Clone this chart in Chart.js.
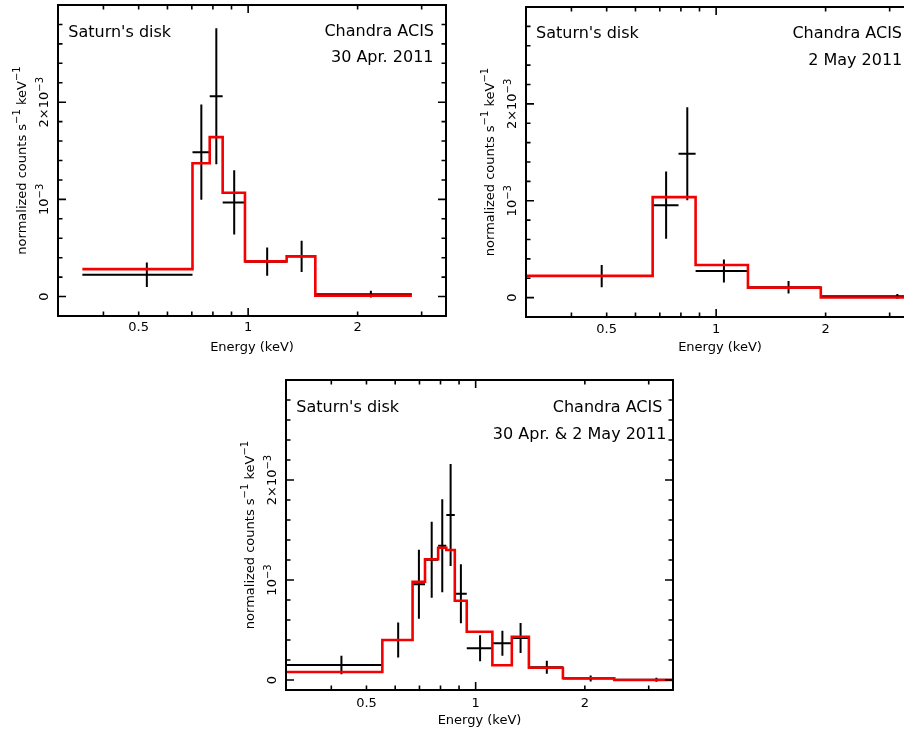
<!DOCTYPE html>
<html><head><meta charset="utf-8">
<script src="https://cdn.jsdelivr.net/npm/chart.js@4.4.1/dist/chart.umd.min.js"></script>
<style>
html,body{margin:0;padding:0;background:#fff;width:904px;height:731px;overflow:hidden;position:relative;}
canvas{position:absolute;display:block;}
</style></head><body>
<canvas id="c1" width="450" height="360" style="left:0px;top:0px;width:450px;height:360px"></canvas>
<canvas id="c2" width="450" height="360" style="left:468px;top:0px;width:450px;height:360px"></canvas>
<canvas id="c3" width="450" height="360" style="left:228px;top:375px;width:450px;height:360px"></canvas>
<script>
// ---------- data (rates in units of 1e-3 normalized counts s^-1 keV^-1) ----------
// Panel 1: 30 Apr. 2011
const p1_eLo  = [0.35, 0.703, 0.784, 0.851, 0.98, 1.276, 1.53];
const p1_eHi  = [0.703, 0.784, 0.851, 0.98, 1.276, 1.53, 2.82];
const p1_rate = [0.224, 1.486, 2.061, 0.969, 0.359, 0.414, 0.025];
const p1_err  = [0.126, 0.49, 0.70, 0.33, 0.145, 0.16, 0.035];
const p1_model= [0.282, 1.372, 1.641, 1.068, 0.362, 0.414, 0.010];
// Panel 2: 2 May 2011
const p2_eLo  = [0.30, 0.669, 0.788, 0.878, 1.223, 1.94];
const p2_eHi  = [0.669, 0.788, 0.878, 1.223, 1.94, 4.36];
const p2_rate = [0.223, 0.954, 1.485, 0.275, 0.107, 0.013];
const p2_err  = [0.115, 0.347, 0.48, 0.118, 0.065, 0.025];
const p2_model= [0.225, 1.037, 1.037, 0.337, 0.103, 0.002];
// Panel 3: 30 Apr. & 2 May 2011
const p3_eLo  = [0.30, 0.553, 0.670, 0.725, 0.788, 0.830, 0.876, 0.945, 1.112, 1.258, 1.402, 1.740, 2.41];
const p3_eHi  = [0.553, 0.670, 0.725, 0.788, 0.830, 0.876, 0.945, 1.112, 1.258, 1.402, 1.740, 2.41, 3.89];
const p3_rate = [0.15, 0.40, 0.957, 1.203, 1.342, 1.65, 0.862, 0.317, 0.367, 0.42, 0.127, 0.015, 0.003];
const p3_err  = [0.092, 0.175, 0.345, 0.38, 0.465, 0.51, 0.295, 0.13, 0.125, 0.15, 0.065, 0.03, 0.02];
const p3_model= [0.08, 0.40, 0.983, 1.207, 1.323, 1.30, 0.793, 0.483, 0.147, 0.433, 0.123, 0.017, 0.0];

// ---------- axes ----------
const xTickLabels = [0.5, 1, 2];
const xMajorTicks = [1];
const xMinorTicks = [0.4, 0.5, 0.6, 0.7, 0.8, 0.9, 2, 3];
const yMajorTicks = [0, 1, 2, 3];
const yMinorTicks = [-0.2, 0.2, 0.4, 0.6, 0.8, 1.2, 1.4, 1.6, 1.8, 2.2, 2.4, 2.6, 2.8];
const yTickValues = [0, 1, 2];
const yTickTexts  = ['0', '10^{\u22123}', '2\u00d710^{\u22123}'];
const yTitle = 'normalized counts s^{\u22121} keV^{\u22121}';
const xTitle = 'Energy (keV)';
const titleLeft = "Saturn's disk";
const titleRight = 'Chandra ACIS';
const dates = ['30 Apr. 2011', '2 May 2011', '30 Apr. & 2 May 2011'];

const FONT = "'DejaVu Sans', sans-serif";

function richParts(s){
  const out=[]; const re=/\^\{([^}]*)\}/g; let last=0, m;
  while((m=re.exec(s))){ if(m.index>last) out.push({t:s.slice(last,m.index),sup:false}); out.push({t:m[1],sup:true}); last=re.lastIndex; }
  if(last<s.length) out.push({t:s.slice(last),sup:false});
  return out;
}
function drawRich(ctx, s, x, y, align, size, supSize, rise){
  const parts = richParts(s); let w=0;
  parts.forEach(p=>{ctx.font=(p.sup?supSize:size)+'px '+FONT; p.w=ctx.measureText(p.t).width; w+=p.w;});
  let cx = align==='center' ? x-w/2 : (align==='right' ? x-w : x);
  ctx.textAlign='left'; ctx.textBaseline='alphabetic';
  parts.forEach(p=>{ctx.font=(p.sup?supSize:size)+'px '+FONT; ctx.fillText(p.t, cx, p.sup ? y-rise : y); cx+=p.w;});
}

const framePlugin = {
  id:'frame',
  afterDraw(chart, args, opts){
    const ctx = chart.ctx, a = chart.chartArea, xs = chart.scales.x, ys = chart.scales.y;
    ctx.save();
    ctx.strokeStyle='#000'; ctx.fillStyle='#000'; ctx.lineWidth=2;
    ctx.strokeRect(a.left, a.top, a.right-a.left, a.bottom-a.top);
    ctx.lineWidth=1.6;
    const tick=(v,len,isX)=>{
      ctx.beginPath();
      if(isX){
        const px=xs.getPixelForValue(v); if(px<a.left-0.5||px>a.right+0.5) return;
        ctx.moveTo(px,a.bottom); ctx.lineTo(px,a.bottom-len);
        ctx.moveTo(px,a.top); ctx.lineTo(px,a.top+len);
      } else {
        const py=ys.getPixelForValue(v); if(py<a.top-0.5||py>a.bottom+0.5) return;
        ctx.moveTo(a.left,py); ctx.lineTo(a.left+len,py);
        ctx.moveTo(a.right,py); ctx.lineTo(a.right-len,py);
      }
      ctx.stroke();
    };
    xMinorTicks.forEach(v=>tick(v,4.5,true));
    xMajorTicks.forEach(v=>tick(v,8,true));
    yMinorTicks.forEach(v=>tick(v,4.5,false));
    yMajorTicks.forEach(v=>tick(v,8,false));
    // y tick labels (rotated)
    yTickValues.forEach((v,i)=>{
      const py=ys.getPixelForValue(v);
      ctx.save(); ctx.translate(a.left-14.3, py); ctx.rotate(-Math.PI/2);
      drawRich(ctx, yTickTexts[i], 0, 4.7, 'center', 13, 10, 5.5);
      ctx.restore();
    });
    // y title
    ctx.save(); ctx.translate(a.left-37, (a.top+a.bottom)/2); ctx.rotate(-Math.PI/2);
    drawRich(ctx, yTitle, 0, 4.5, 'center', 13, 10, 5.5);
    ctx.restore();
    // annotations
    opts.notes.forEach(n=>{
      ctx.font='16px '+FONT; ctx.textBaseline='alphabetic';
      if(n.align==='left'){ ctx.textAlign='left'; ctx.fillText(n.t, a.left+n.dx, a.top+n.dy); }
      else { ctx.textAlign='right'; ctx.fillText(n.t, a.right-n.dx, a.top+n.dy); }
    });
    ctx.restore();
  }
};

function errorBarPoints(eLo, eHi, rate, err){
  const pts=[];
  for(let i=0;i<rate.length;i++){
    const c=(eLo[i]+eHi[i])/2;
    pts.push({x:eLo[i],y:rate[i]},{x:eHi[i],y:rate[i]},{x:c,y:null});
    pts.push({x:c,y:rate[i]-err[i]},{x:c,y:rate[i]+err[i]},{x:c,y:null});
  }
  return pts;
}
function modelPoints(eLo, eHi, model){
  const pts=eLo.map((e,i)=>({x:e,y:model[i]}));
  pts.push({x:eHi[eHi.length-1], y:model[model.length-1]});
  return pts;
}

const panels = [
  {id:'c1', H:360, W:450, area:{l:58,t:5,r:446,b:316}, ymin:-0.2, ymax:3.0,
   eLo:p1_eLo, eHi:p1_eHi, rate:p1_rate, err:p1_err, model:p1_model, tickPad:3.5, titlePad:4.5,
   notes:[{t:titleLeft,align:'left',dx:10.3,dy:31.7},{t:titleRight,align:'right',dx:12,dy:31},{t:dates[0],align:'right',dx:12.5,dy:57}]},
  {id:'c2', H:360, W:450, area:{l:58,t:7,r:446,b:317}, ymin:-0.2, ymax:3.0,
   eLo:p2_eLo, eHi:p2_eHi, rate:p2_rate, err:p2_err, model:p2_model, tickPad:5, titlePad:4.5,
   notes:[{t:titleLeft,align:'left',dx:10,dy:30.7},{t:titleRight,align:'right',dx:12,dy:31.3},{t:dates[1],align:'right',dx:11.7,dy:58}]},
  {id:'c3', H:360, W:450, area:{l:58,t:5,r:445,b:315}, ymin:-0.1, ymax:3.0,
   eLo:p3_eLo, eHi:p3_eHi, rate:p3_rate, err:p3_err, model:p3_model, tickPad:5.5, titlePad:6.5,
   notes:[{t:titleLeft,align:'left',dx:10.3,dy:31.7},{t:titleRight,align:'right',dx:10.6,dy:31.7},{t:dates[2],align:'right',dx:6.6,dy:59}]}
];

panels.forEach(p=>{
  new Chart(document.getElementById(p.id), {
    type:'line',
    data:{ datasets:[
      {label:'model', data:modelPoints(p.eLo,p.eHi,p.model), stepped:'before', borderColor:'rgb(245,0,0)', borderWidth:2.6, pointRadius:0, fill:false, order:0},
      {label:'data', data:errorBarPoints(p.eLo,p.eHi,p.rate,p.err), borderColor:'#000', borderWidth:2, pointRadius:0, fill:false, spanGaps:false, order:1}
    ]},
    options:{
      responsive:false, animation:false, devicePixelRatio:1,
      layout:{padding:{left:0, top:p.area.t, right:p.W-p.area.r, bottom:0}},
      plugins:{legend:{display:false}, tooltip:{enabled:false}, frame:{notes:p.notes}},
      scales:{
        x:{type:'logarithmic', position:'bottom', min:0.3, max:3.5,
           grid:{display:false, drawTicks:false}, border:{display:false},
           afterBuildTicks:(s)=>{ s.ticks = xTickLabels.map(v=>({value:v})); },
           afterFit:(s)=>{ s.height = p.H - p.area.b; },
           ticks:{autoSkip:false, maxRotation:0, minRotation:0, padding:p.tickPad, color:'#000',
                  font:{family:FONT, size:13}, callback:(v)=>String(v)},
           title:{display:true, text:xTitle, color:'#000', font:{family:FONT, size:13}, padding:{top:0,bottom:p.titlePad}}},
        y:{type:'linear', position:'left', min:p.ymin, max:p.ymax,
           grid:{display:false, drawTicks:false}, border:{display:false},
           ticks:{display:false},
           afterFit:(s)=>{ s.width = p.area.l; }}
      }
    },
    plugins:[framePlugin]
  });
});
</script>
</body></html>
